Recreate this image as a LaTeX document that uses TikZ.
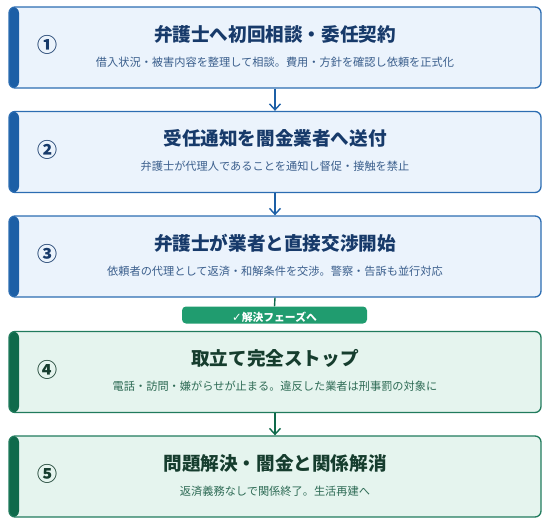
\documentclass[tikz,border=0pt]{standalone}
\usepackage{fontspec}
\setmainfont{Noto Sans CJK JP}
\newfontfamily\dejavu{DejaVu Sans}
\usetikzlibrary{arrows.meta}
\definecolor{bBorder}{HTML}{2C6DB2}
\definecolor{bBar}{HTML}{1C5FA6}
\definecolor{bFill}{HTML}{EBF3FC}
\definecolor{bTitle}{HTML}{173A6A}
\definecolor{bSub}{HTML}{3A5E8C}
\definecolor{gBorder}{HTML}{217B5D}
\definecolor{gBar}{HTML}{0F6A4B}
\definecolor{gFill}{HTML}{E5F4EE}
\definecolor{gTitle}{HTML}{163D2E}
\definecolor{gSub}{HTML}{2E6B55}
\definecolor{gBanner}{HTML}{209C6F}
\tikzset{
  stepbox/.style={draw=#1Border, fill=#1Fill, line width=1.3pt, rounded corners=6pt,
    minimum width=532pt, minimum height=81pt, inner sep=0pt,
    path picture={\fill[#1Bar] (path picture bounding box.south west) rectangle ([xshift=10pt]path picture bounding box.north west);}},
  ttl/.style={font=\bfseries\fontsize{18.6}{21}\selectfont, text=#1Title, inner sep=0pt},
  sub/.style={font=\fontsize{11.2}{13}\selectfont, text=#1Sub, inner sep=0pt},
  num/.style={font=\bfseries\fontsize{20}{22}\selectfont, text=#1Title, inner sep=0pt},
  conn/.style={draw=#1Bar, line width=1.4pt},
  arr/.style={conn=#1, -{Straight Barb[length=6pt,width=11pt,line width=1.4pt]}}
}
\begin{document}
\begin{tikzpicture}[x=1pt,y=-1pt]
\useasboundingbox (0,0) rectangle (554,528);
% boxes
\node[stepbox=b] (b1) at (275,47.5) {};
\node[stepbox=b] (b2) at (275,152) {};
\node[stepbox=b] (b3) at (275,256.5) {};
\node[stepbox=g] (b4) at (275,372) {};
\node[stepbox=g] (b5) at (275,476.5) {};
% step 1
\node[num=b] (n1) at (47,45) {①};
\node[ttl=b] (t1) at (275,34) {弁護士へ初回相談・委任契約};
\node[sub=b] (s1) at (275,62) {借入状況・被害内容を整理して相談。費用・方針を確認し依頼を正式化};
% step 2
\node[num=b] (n2) at (47,149.5) {②};
\node[ttl=b] (t2) at (275,138.5) {受任通知を闇金業者へ送付};
\node[sub=b] (s2) at (275,166.5) {弁護士が代理人であることを通知し督促・接触を禁止};
% step 3
\node[num=b] (n3) at (47,254) {③};
\node[ttl=b] (t3) at (275,243) {弁護士が業者と直接交渉開始};
\node[sub=b] (s3) at (275,271) {依頼者の代理として返済・和解条件を交渉。警察・告訴も並行対応};
% step 4
\node[num=g] (n4) at (47,369.5) {④};
\node[ttl=g] (t4) at (275,358.5) {取立て完全ストップ};
\node[sub=g] (s4) at (275,386.5) {電話・訪問・嫌がらせが止まる。違反した業者は刑事罰の対象に};
% step 5
\node[num=g] (n5) at (47,474) {⑤};
\node[ttl=g] (t5) at (275,463) {問題解決・闇金と関係解消};
\node[sub=g] (s5) at (275,491) {返済義務なしで関係終了。生活再建へ};
% banner
\node[fill=gBanner, rounded corners=4pt, minimum width=185pt, minimum height=17pt, inner sep=0pt] (ban) at (274.5,315) {};
\node[text=white, font=\bfseries\fontsize{10.8}{12}\selectfont, inner sep=0pt] (bant) at (274.5,317) {{\dejavu\bfseries\fontsize{11.5}{12}\selectfont ✓}解決フェーズへ};
% connectors
\draw[arr=b] (b1.south) -- (b2.north);
\draw[arr=b] (b2.south) -- (b3.north);
\draw[conn=g] (b3.south) -- (ban.north);
\draw[arr=g] (b4.south) -- (b5.north);
\end{tikzpicture}
\end{document}
